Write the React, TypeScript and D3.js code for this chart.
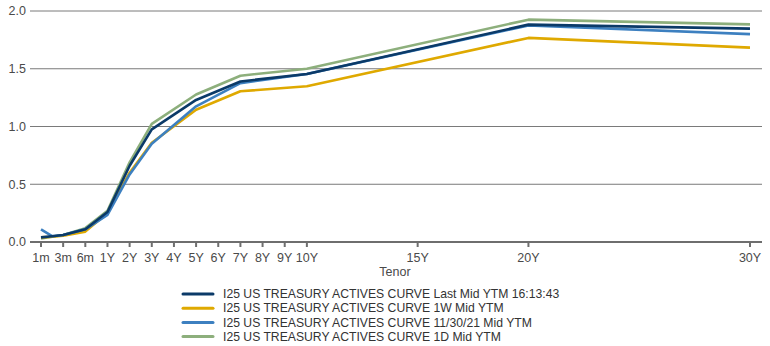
import React from "react";
import * as d3 from "d3";

const tenors = ["1m", "2m", "3m", "6m", "1Y", "2Y", "3Y", "5Y", "7Y", "10Y", "20Y", "30Y"];
const tenorPos = [0, 0.5, 1, 2, 3, 4, 5, 7, 9, 12, 22, 32];

const tickLabels = ["1m", "3m", "6m", "1Y", "2Y", "3Y", "4Y", "5Y", "6Y", "7Y", "8Y", "9Y", "10Y", "15Y", "20Y", "30Y"];
const tickPos = [0, 1, 2, 3, 4, 5, 6, 7, 8, 9, 10, 11, 12, 17, 22, 32];

const lastMid = [0.04, 0.05, 0.06, 0.11, 0.26, 0.66, 0.975, 1.23, 1.39, 1.455, 1.882, 1.847];
const oneWeek = [0.04, 0.045, 0.055, 0.09, 0.25, 0.6, 0.86, 1.145, 1.305, 1.348, 1.767, 1.683];
const nov30 = [0.11, 0.05, 0.06, 0.11, 0.235, 0.585, 0.85, 1.175, 1.375, 1.455, 1.875, 1.80];
const oneDay = [0.03, 0.045, 0.06, 0.12, 0.27, 0.69, 1.023, 1.277, 1.44, 1.5, 1.925, 1.884];

const seriesNames = [
  "I25 US TREASURY ACTIVES CURVE Last Mid YTM 16:13:43",
  "I25 US TREASURY ACTIVES CURVE 1W Mid YTM",
  "I25 US TREASURY ACTIVES CURVE 11/30/21 Mid YTM",
  "I25 US TREASURY ACTIVES CURVE 1D Mid YTM",
];
const seriesColors = ["#0b3a68", "#dfa900", "#3d80c0", "#8daf7c"];
const yTicks = [0, 0.5, 1.0, 1.5, 2.0];

export default function App() {
  const W = 770, H = 346;
  const x = d3.scaleLinear().domain([0, 32]).range([41, 750]);
  const y = d3.scaleLinear().domain([0, 2]).range([242, 11]);
  const line = d3
    .line<[number, number]>()
    .x((d) => x(d[0]))
    .y((d) => y(d[1]));
  const seriesValues = [lastMid, oneWeek, nov30, oneDay];
  const drawOrder = [3, 1, 2, 0];
  const font = "Liberation Sans, Arial, sans-serif";
  const textColor = "#4a4a4a";

  return (
    <svg
      width={W}
      height={H}
      style={{ position: "absolute", left: 0, top: 0 }}
      fontFamily={font}
    >
      <rect width={W} height={H} fill="#fff" />
      {yTicks.map((t) => (
        <g key={t}>
          {t !== 0 && (
            <line x1={30} x2={762} y1={y(t)} y2={y(t)} stroke="#7a7a7a" strokeWidth={1} />
          )}
          <text x={26} y={y(t)} dy="0.35em" textAnchor="end" fontSize={12.5} fill={textColor}>
            {t.toFixed(1)}
          </text>
        </g>
      ))}
      {drawOrder.map((i) => (
        <path
          key={i}
          d={line(tenorPos.map((p, k) => [p, seriesValues[i][k]] as [number, number])) || ""}
          fill="none"
          stroke={seriesColors[i]}
          strokeWidth={2.6}
          strokeLinejoin="round"
        />
      ))}
      <line x1={30} x2={762} y1={y(0)} y2={y(0)} stroke="#6e6e6e" strokeWidth={2} />
      {tickPos.map((p, i) => (
        <g key={tickLabels[i]}>
          <line x1={x(p)} x2={x(p)} y1={y(0)} y2={y(0) + 5} stroke="#6e6e6e" strokeWidth={2} />
          <text x={x(p)} y={261.5} textAnchor="middle" fontSize={12.5} fill={textColor}>
            {tickLabels[i]}
          </text>
        </g>
      ))}
      <text x={395} y={276} textAnchor="middle" fontSize={12.5} fill={textColor}>
        Tenor
      </text>
      {seriesNames.map((n, i) => (
        <g key={n} transform={`translate(0, ${294 + i * 14.2})`}>
          <line x1={183} x2={213} y1={0} y2={0} stroke={seriesColors[i]} strokeWidth={3} strokeLinecap="round" />
          <text x={223} y={0} dy="0.35em" fontSize={12.2} fill="#333">
            {n}
          </text>
        </g>
      ))}
    </svg>
  );
}
